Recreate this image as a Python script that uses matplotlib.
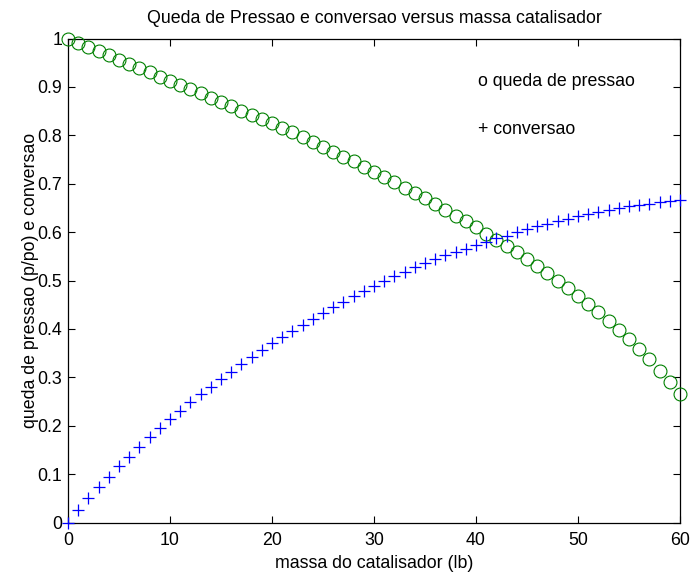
import matplotlib
matplotlib.use("Agg")
import matplotlib.pyplot as plt

plt.rcParams["font.family"] = ["Liberation Sans", "DejaVu Sans"]

# massa do catalisador (lb)
massa = list(range(0, 61))

# queda de pressao p/po
pressao = [
    1.000, 0.991, 0.983, 0.974, 0.965, 0.956, 0.947, 0.939, 0.930, 0.921,
    0.912, 0.904, 0.895, 0.887, 0.878, 0.869, 0.860, 0.851, 0.842, 0.834,
    0.825, 0.815, 0.806, 0.796, 0.786, 0.776, 0.766, 0.756, 0.746, 0.735,
    0.724, 0.714, 0.703, 0.692, 0.681, 0.670, 0.658, 0.646, 0.634, 0.622,
    0.610, 0.597, 0.584, 0.571, 0.558, 0.544, 0.530, 0.515, 0.500, 0.485,
    0.469, 0.452, 0.435, 0.417, 0.398, 0.379, 0.358, 0.337, 0.314, 0.290,
    0.265,
]

# conversao
conversao = [
    0.000, 0.026, 0.050, 0.073, 0.095, 0.116, 0.136, 0.156, 0.176, 0.195,
    0.213, 0.231, 0.248, 0.265, 0.281, 0.297, 0.312, 0.327, 0.342, 0.356,
    0.370, 0.383, 0.396, 0.409, 0.421, 0.433, 0.445, 0.456, 0.467, 0.478,
    0.489, 0.499, 0.509, 0.518, 0.527, 0.536, 0.544, 0.552, 0.559, 0.566,
    0.573, 0.580, 0.587, 0.593, 0.600, 0.606, 0.612, 0.617, 0.623, 0.628,
    0.633, 0.638, 0.642, 0.646, 0.650, 0.653, 0.656, 0.659, 0.662, 0.664,
    0.666,
]

x_ticks = [0, 10, 20, 30, 40, 50, 60]
y_ticks = [0, 0.1, 0.2, 0.3, 0.4, 0.5, 0.6, 0.7, 0.8, 0.9, 1]
y_labels = ["0", "0.1", "0.2", "0.3", "0.4", "0.5", "0.6", "0.7", "0.8", "0.9", "1"]

FS = 12.8

fig = plt.figure(figsize=(6.91, 5.75), dpi=100)
ax = fig.add_axes([0.0984, 0.0913, 0.8856, 0.8417])

ax.plot(massa, pressao, linestyle="none", marker="o", markersize=9.3,
        markerfacecolor="none", markeredgecolor="#008000", markeredgewidth=0.8,
        clip_on=False, zorder=3)
ax.plot(massa, conversao, linestyle="none", marker="+", markersize=8.8,
        markeredgecolor="#0000ff", markeredgewidth=0.9, clip_on=False, zorder=3)

ax.text(40.2, 0.912, "o queda de pressao", fontsize=FS, va="center", ha="left")
ax.text(40.2, 0.813, "+ conversao", fontsize=FS, va="center", ha="left")

ax.set_xlim(0, 60)
ax.set_ylim(0, 1)
ax.set_xticks(x_ticks)
ax.set_yticks(y_ticks)
ax.set_yticklabels(y_labels)
ax.tick_params(direction="in", top=True, right=True, labelsize=FS, length=5, width=0.8)
ax.tick_params(axis="y", pad=4)
ax.tick_params(axis="x", pad=7)
for s in ax.spines.values():
    s.set_linewidth(0.9)

ax.set_title("Queda de Pressao e conversao versus massa catalisador", fontsize=FS, pad=11)
ax.set_xlabel("massa do catalisador (lb)", fontsize=FS, labelpad=4)
ax.set_ylabel("queda de pressao (p/po) e conversao", fontsize=FS, labelpad=-1)

fig.savefig("out.png", dpi=100)
